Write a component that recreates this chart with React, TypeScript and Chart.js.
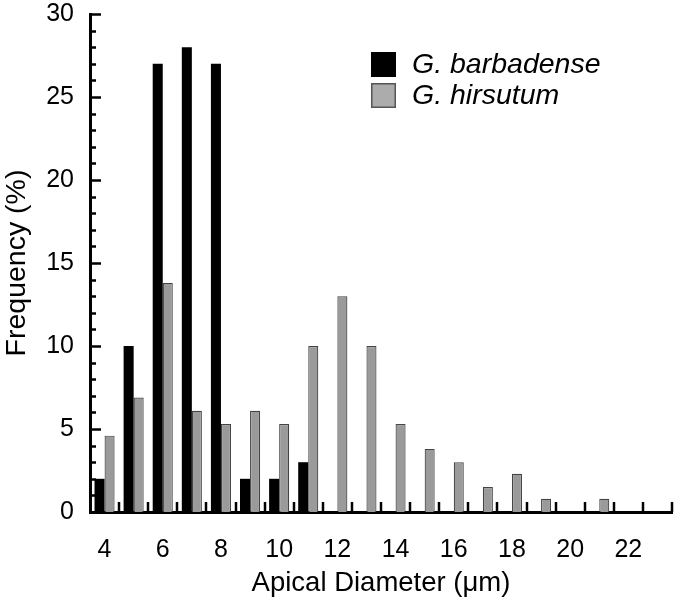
import React, { useEffect, useRef } from 'react';
import { Chart, registerables } from 'chart.js';

Chart.register(...registerables);

// ---- data ----
const categories = [4, 5, 6, 7, 8, 9, 10, 11, 12, 13, 14, 15, 16, 17, 18, 19, 20, 21, 22, 23];
const barbadense = [2, 10, 27, 28, 27, 2, 2, 3, 0, 0, 0, 0, 0, 0, 0, 0, 0, 0, 0, 0];
const hirsutum = [4.6, 6.9, 13.8, 6.1, 5.3, 6.1, 5.3, 10, 13.0, 10, 5.3, 3.8, 3.0, 1.5, 2.3, 0.8, 0, 0.8, 0, 0];
const seriesNames = ['G. barbadense', 'G. hirsutum'];
const yMin = 0;
const yMax = 30;
const yMajorStep = 5;
const yMinorStep = 1;
const xTitle = 'Apical Diameter (μm)';
const yTitle = 'Frequency (%)';

const FONT = "'Liberation Sans', Arial, Helvetica, sans-serif";

const inwardTicks = {
  id: 'inwardTicks',
  afterDraw(chart: any) {
    const { ctx, scales, chartArea } = chart;
    const x = scales.x;
    const y = scales.y;
    ctx.save();
    ctx.strokeStyle = '#000';
    ctx.lineWidth = 2.5;
    for (let v = yMin; v <= yMax; v += yMinorStep) {
      const py = Math.round(y.getPixelForValue(v)) + 0.5;
      const len = v % yMajorStep === 0 ? 11 : 6;
      ctx.beginPath();
      ctx.moveTo(chartArea.left, py);
      ctx.lineTo(chartArea.left + len, py);
      ctx.stroke();
    }
    const half = (x.getPixelForValue(1) - x.getPixelForValue(0)) / 2;
    for (let i = 0; i < categories.length; i++) {
      const px = Math.round(x.getPixelForValue(i) + half);
      ctx.beginPath();
      ctx.moveTo(px, chartArea.bottom);
      ctx.lineTo(px, chartArea.bottom - 10);
      ctx.stroke();
    }
    ctx.restore();
  },
};

const boxLegend = {
  id: 'boxLegend',
  afterDraw(chart: any, _args: any, opts: any) {
    const { ctx } = chart;
    ctx.save();
    chart.data.datasets.forEach((ds: any, i: number) => {
      const top = opts.top + i * opts.rowGap;
      ctx.fillStyle = ds.legendFill;
      ctx.fillRect(opts.left, top, opts.size, opts.size);
      ctx.strokeStyle = ds.legendBorder;
      ctx.lineWidth = 1.5;
      ctx.strokeRect(opts.left + 0.75, top + 0.75, opts.size - 1.5, opts.size - 1.5);
      ctx.fillStyle = '#000';
      ctx.font = `italic 28.5px ${FONT}`;
      ctx.textBaseline = 'middle';
      ctx.textAlign = 'left';
      ctx.fillText(ds.label, opts.textX, top + opts.size / 2 + 1);
    });
    ctx.restore();
  },
};

export default function App() {
  const ref = useRef<HTMLCanvasElement | null>(null);

  useEffect(() => {
    if (!ref.current) return;
    Chart.defaults.font.family = FONT;
    const chart = new Chart(ref.current, {
      type: 'bar',
      data: {
        labels: categories.map(String),
        datasets: [
          {
            label: seriesNames[0],
            data: barbadense,
            backgroundColor: '#000000',
            borderColor: '#000000',
            borderWidth: 0,
            legendFill: '#000000',
            legendBorder: '#000000',
          } as any,
          {
            label: seriesNames[1],
            data: hirsutum,
            backgroundColor: '#9a9a9a',
            borderColor: '#444444',
            borderWidth: 1.2,
            legendFill: '#acacac',
            legendBorder: '#555555',
          } as any,
        ],
      },
      options: {
        responsive: false,
        animation: false,
        maintainAspectRatio: false,
        layout: { padding: { top: 14, right: 3, left: 0, bottom: 0 } },
        datasets: {
          bar: { categoryPercentage: 0.69, barPercentage: 1.0 },
        },
        plugins: {
          legend: { display: false },
          tooltip: { enabled: false },
          boxLegend: { left: 371, top: 52, size: 25, rowGap: 31, textX: 412 },
        } as any,
        scales: {
          x: {
            type: 'category',
            offset: true,
            grid: { display: false, drawTicks: false },
            border: { display: true, color: '#000', width: 3 },
            ticks: {
              autoSkip: false,
              maxRotation: 0,
              minRotation: 0,
              color: '#000',
              padding: 23,
              font: { size: 25, family: FONT },
              callback: (_v: any, idx: number) =>
                categories[idx] % 2 === 0 ? String(categories[idx]) : '',
            },
            title: {
              display: true,
              text: xTitle,
              color: '#000',
              font: { size: 27.5, family: FONT },
              padding: { top: 0, bottom: 7 },
            },
            afterFit: (s: any) => {
              s.height = 95;
              s.paddingLeft = 0;
              s.paddingRight = 0;
            },
          },
          y: {
            min: yMin,
            max: yMax,
            grid: { display: false, drawTicks: false },
            border: { display: true, color: '#000', width: 3 },
            ticks: {
              stepSize: yMajorStep,
              color: '#000',
              padding: 16,
              font: { size: 25, family: FONT },
            },
            title: {
              display: true,
              text: yTitle,
              color: '#000',
              font: { size: 28.5, family: FONT },
              padding: { top: 0, bottom: 0 },
            },
            afterFit: (s: any) => {
              s.width = 90;
              s.paddingTop = 0;
              s.paddingBottom = 0;
            },
          },
        },
      },
      plugins: [inwardTicks, boxLegend],
    });
    return () => chart.destroy();
  }, []);

  return (
    <div style={{ position: 'fixed', left: 0, top: 0, width: 675, height: 607, background: '#fff' }}>
      <canvas ref={ref} width={675} height={607} style={{ display: 'block' }} />
    </div>
  );
}
